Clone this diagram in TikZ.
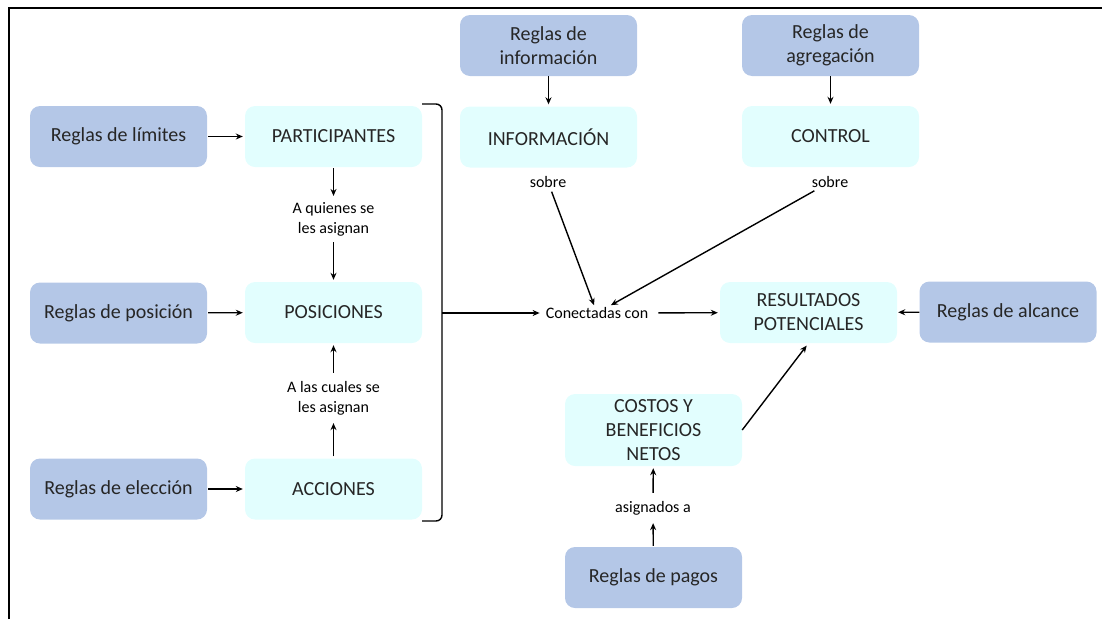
\documentclass[tikz,border=0pt]{standalone}
\usepackage{fontspec}
\setmainfont{Carlito}
\usetikzlibrary{arrows.meta}
\definecolor{rulefill}{HTML}{B4C7E7}
\definecolor{itemfill}{HTML}{E2FEFE}
\definecolor{txt}{HTML}{262626}
\begin{document}
\begin{tikzpicture}[x=1pt,y=-1pt,
  rulebox/.style={fill=rulefill, rounded corners=10pt, minimum width=177pt, minimum height=61pt,
     align=center, text=txt, font=\fontsize{20}{24}\selectfont, inner sep=2pt},
  itembox/.style={fill=itemfill, rounded corners=10pt, minimum width=177pt, minimum height=61pt,
     align=center, text=txt, font=\fontsize{20}{24}\selectfont, inner sep=2pt},
  lbl/.style={align=center, text=black, font=\fontsize{16}{20}\selectfont, inner sep=2pt},
  arr/.style={line width=1.4pt, -{Stealth[length=7pt,width=6pt]}},
  plain/.style={line width=1.4pt}]
\useasboundingbox (0,0) rectangle (1102,619);
\draw[line width=2pt] (9,619) -- (9,8) -- (1102,8);

% left column
\node[rulebox] (limites) at (118.5,136.5) {Reglas de límites};
\node[rulebox] (posrule) at (118.5,313) {Reglas de posición};
\node[rulebox] (eleccion) at (118.5,489) {Reglas de elección};
\node[itembox] (particip) at (333.5,136.5) {PARTICIPANTES};
\node[itembox] (posiciones) at (333.5,312.5) {POSICIONES};
\node[itembox] (acciones) at (333.5,489) {ACCIONES};
\node[lbl] (quienes) at (333.5,219) {A quienes se\\les asignan};
\node[lbl] (cuales) at (333.5,398) {A las cuales se\\les asignan};

% top
\node[rulebox] (reginfo) at (548.5,45.5) {Reglas de\\información};
\node[itembox] (informacion) at (548.5,137) {INFORMACIÓN};
\node[rulebox] (regagreg) at (830.5,45.5) {Reglas de\\agregación};
\node[itembox] (control) at (830.5,136.5) {CONTROL};
\node[lbl] (sobreA) at (548,182) {sobre};
\node[lbl] (sobreB) at (830,182) {sobre};

% middle right
\node[lbl] (conect) at (597,313) {Conectadas con};
\node[itembox] (resultados) at (808.5,312.5) {RESULTADOS\\POTENCIALES};
\node[rulebox] (alcance) at (1008,312) {Reglas de alcance};
\node[itembox, minimum height=72pt] (costos) at (653.5,430) {COSTOS Y\\BENEFICIOS\\NETOS};
\node[lbl] (asign) at (653,508) {asignados a};
\node[rulebox] (pagos) at (653.5,577.5) {Reglas de pagos};

% bracket
\coordinate (brT) at (422,104);
\coordinate (brB) at (422,521);
\coordinate (brM) at (442,313);
\draw[plain] (brT) -- (436,104) to[out=0,in=90] (442,110) -- (442,515) to[out=-90,in=0] (436,521) -- (brB);
\draw[arr, shorten >=4pt] (brM) -- (conect.west);

% arrows left
\draw[arr, shorten <=1pt, shorten >=2pt] (limites) -- (particip);
\draw[arr, shorten <=1pt, shorten >=2pt] (posrule) -- (posiciones);
\draw[arr, shorten <=1pt, shorten >=2pt] (eleccion) -- (acciones);
\draw[arr, shorten <=1pt, shorten >=4pt] (particip) -- (quienes);
\draw[arr, shorten <=4pt, shorten >=2pt] (quienes) -- (posiciones);
\draw[arr, shorten <=2pt, shorten >=6pt] (acciones) -- (cuales);
\draw[arr, shorten <=6pt, shorten >=2pt] (cuales) -- (posiciones);

% arrows top
\draw[arr, shorten >=2pt] (reginfo) -- (informacion);
\draw[arr, shorten >=2pt] (regagreg) -- (control);
\draw[arr, shorten <=2pt] (sobreA) -- (conect);
\draw[arr, shorten <=2pt] (sobreB) -- (conect);

% arrows right
\draw[arr, shorten <=8pt, shorten >=2pt] (conect) -- (resultados);
\draw[arr, shorten >=1pt] (alcance) -- (resultados);
\draw[arr, shorten >=3pt] (costos.east) -- (resultados.south);
\draw[arr, shorten <=1pt, shorten >=6pt] (pagos) -- (asign);
\draw[arr, shorten <=6pt, shorten >=2pt] (asign) -- (costos);
\end{tikzpicture}
\end{document}
